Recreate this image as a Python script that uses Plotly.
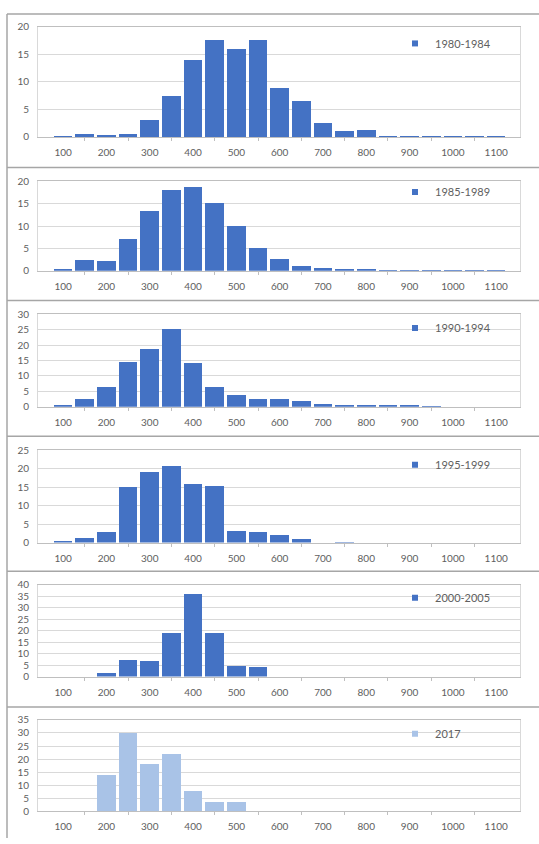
import plotly.graph_objects as go

# ---- data ----
bins = [100, 150, 200, 250, 300, 350, 400, 450, 500, 550, 600, 650, 700, 750,
        800, 850, 900, 950, 1000, 1050, 1100]
x_tick_labels = [100, 200, 300, 400, 500, 600, 700, 800, 900, 1000, 1100]

p1980_1984 = [0.1, 0.6, 0.4, 0.6, 3.2, 7.5, 14.0, 17.7, 16.0, 17.7, 9.0, 6.5, 2.5, 1.1,
              1.4, 0.1, 0.3, 0.1, 0.1, 0.3, 0.2]
p1985_1989 = [0.2, 2.3, 2.1, 7.1, 13.2, 18.1, 18.6, 15.2, 9.9, 5.1, 2.5, 1.0, 0.6, 0.4,
              0.3, 0.05, 0.05, 0.05, 0.05, 0.1, 0.05]
p1990_1994 = [0.2, 2.5, 6.3, 14.6, 18.8, 25.0, 14.1, 6.5, 3.9, 2.6, 2.6, 1.7, 0.7, 0.5,
              0.2, 0.2, 0.2, 0.1, 0, 0, 0]
p1995_1999 = [0.3, 1.2, 2.8, 15.1, 19.1, 20.7, 15.9, 15.4, 3.2, 2.9, 2.1, 0.9, 0, 0.1,
              0, 0, 0, 0, 0, 0, 0]
p2000_2005 = [0, 0, 1.5, 7.3, 6.7, 19.0, 36.2, 19.0, 4.8, 4.3, 0, 0, 0, 0,
              0, 0, 0, 0, 0, 0, 0]
p2017 = [0, 0, 14.0, 30.0, 18.0, 22.0, 7.8, 3.8, 3.8, 0, 0, 0, 0, 0,
         0, 0, 0, 0, 0, 0, 0]

series_names = ["1980-1984", "1985-1989", "1990-1994", "1995-1999", "2000-2005", "2017"]
series_values = [p1980_1984, p1985_1989, p1990_1994, p1995_1999, p2000_2005, p2017]
y_max = [20, 20, 30, 25, 40, 35]

# ---- styling / layout ----
W, H = 539, 844
DARK = "#4472C4"
LIGHT = "#A9C3E7"
colors = [DARK, DARK, DARK, DARK, DARK, LIGHT]
# plot-area pixel extents (top, bottom) for each panel
panel_px = [(20, 132), (177, 268), (312, 406), (450, 544), (587, 680), (724, 817)]
legend_px = [37, 188, 326, 465, 600, 738]
sep_px = [163, 298, 436, 573, 711]
x_left, x_right = 38, 520

FONT = "Lato"
TXT = "#606060"
GRID = "#D9D9D9"

fig = go.Figure()
layout = dict(
    width=W, height=H,
    margin=dict(l=0, r=0, t=0, b=0),
    paper_bgcolor="white", plot_bgcolor="white",
    font=dict(family=FONT, size=10, color=TXT),
    bargap=0,
)

for i, (name, vals) in enumerate(zip(series_names, series_values)):
    k = "" if i == 0 else str(i + 1)
    xa, ya = "x" + k, "y" + k
    leg = "legend" + k
    fig.add_trace(go.Bar(
        x=bins, y=vals, width=43, marker=dict(color=colors[i], line=dict(width=0)),
        xaxis=xa, yaxis=ya, showlegend=False, name=name,
    ))
    fig.add_trace(go.Scatter(
        x=[None], y=[None], mode="markers", name=name,
        marker=dict(symbol="square", size=6, color=colors[i]),
        xaxis=xa, yaxis=ya, showlegend=True, legend=leg,
    ))
    top, bot = panel_px[i]
    layout["xaxis" + k] = dict(
        domain=[x_left / W, x_right / W], anchor=ya, range=[42, 1155],
        tickvals=x_tick_labels, ticktext=[str(v) for v in x_tick_labels],
        ticks="", showgrid=False, zeroline=False,
        showline=True, linecolor="#BFBFBF", linewidth=1, mirror=True,
        ticklabelstandoff=6,
        minor=dict(tickvals=[150 + 100 * j for j in range(10)], ticks="outside",
                   ticklen=3, tickcolor="#BFBFBF", showgrid=False),
        tickfont=dict(size=10, color=TXT),
    )
    layout["yaxis" + k] = dict(
        domain=[1 - bot / H, 1 - top / H], anchor=xa, range=[0, y_max[i]],
        dtick=5, tick0=0, showgrid=True, gridcolor=GRID, gridwidth=1,
        zeroline=False, showline=True, linecolor=GRID, mirror=True,
        ticks="", ticklabelstandoff=6, tickfont=dict(size=10, color=TXT),
    )
    layout[leg] = dict(
        x=395 / W, xanchor="left", y=1 - legend_px[i] / H, yanchor="middle",
        bgcolor="rgba(0,0,0,0)", font=dict(size=11, color=TXT), itemwidth=30,
    )

shapes = []
FRAME = "#A6A6A6"
shapes.append(dict(type="line", xref="paper", yref="paper", x0=7 / W, x1=1, y0=1 - 7 / H, y1=1 - 7 / H,
                   line=dict(color=FRAME, width=1.5)))
shapes.append(dict(type="line", xref="paper", yref="paper", x0=7 / W, x1=7 / W, y0=0, y1=1 - 7 / H,
                   line=dict(color=FRAME, width=1.5)))
for s in sep_px:
    shapes.append(dict(type="line", xref="paper", yref="paper", x0=7 / W, x1=1, y0=1 - s / H, y1=1 - s / H,
                       line=dict(color=FRAME, width=1.5)))
layout["shapes"] = shapes

fig.update_layout(**layout)
fig.write_html("out.html", config={"displayModeBar": False},
               post_script="document.body.style.margin='0';")
